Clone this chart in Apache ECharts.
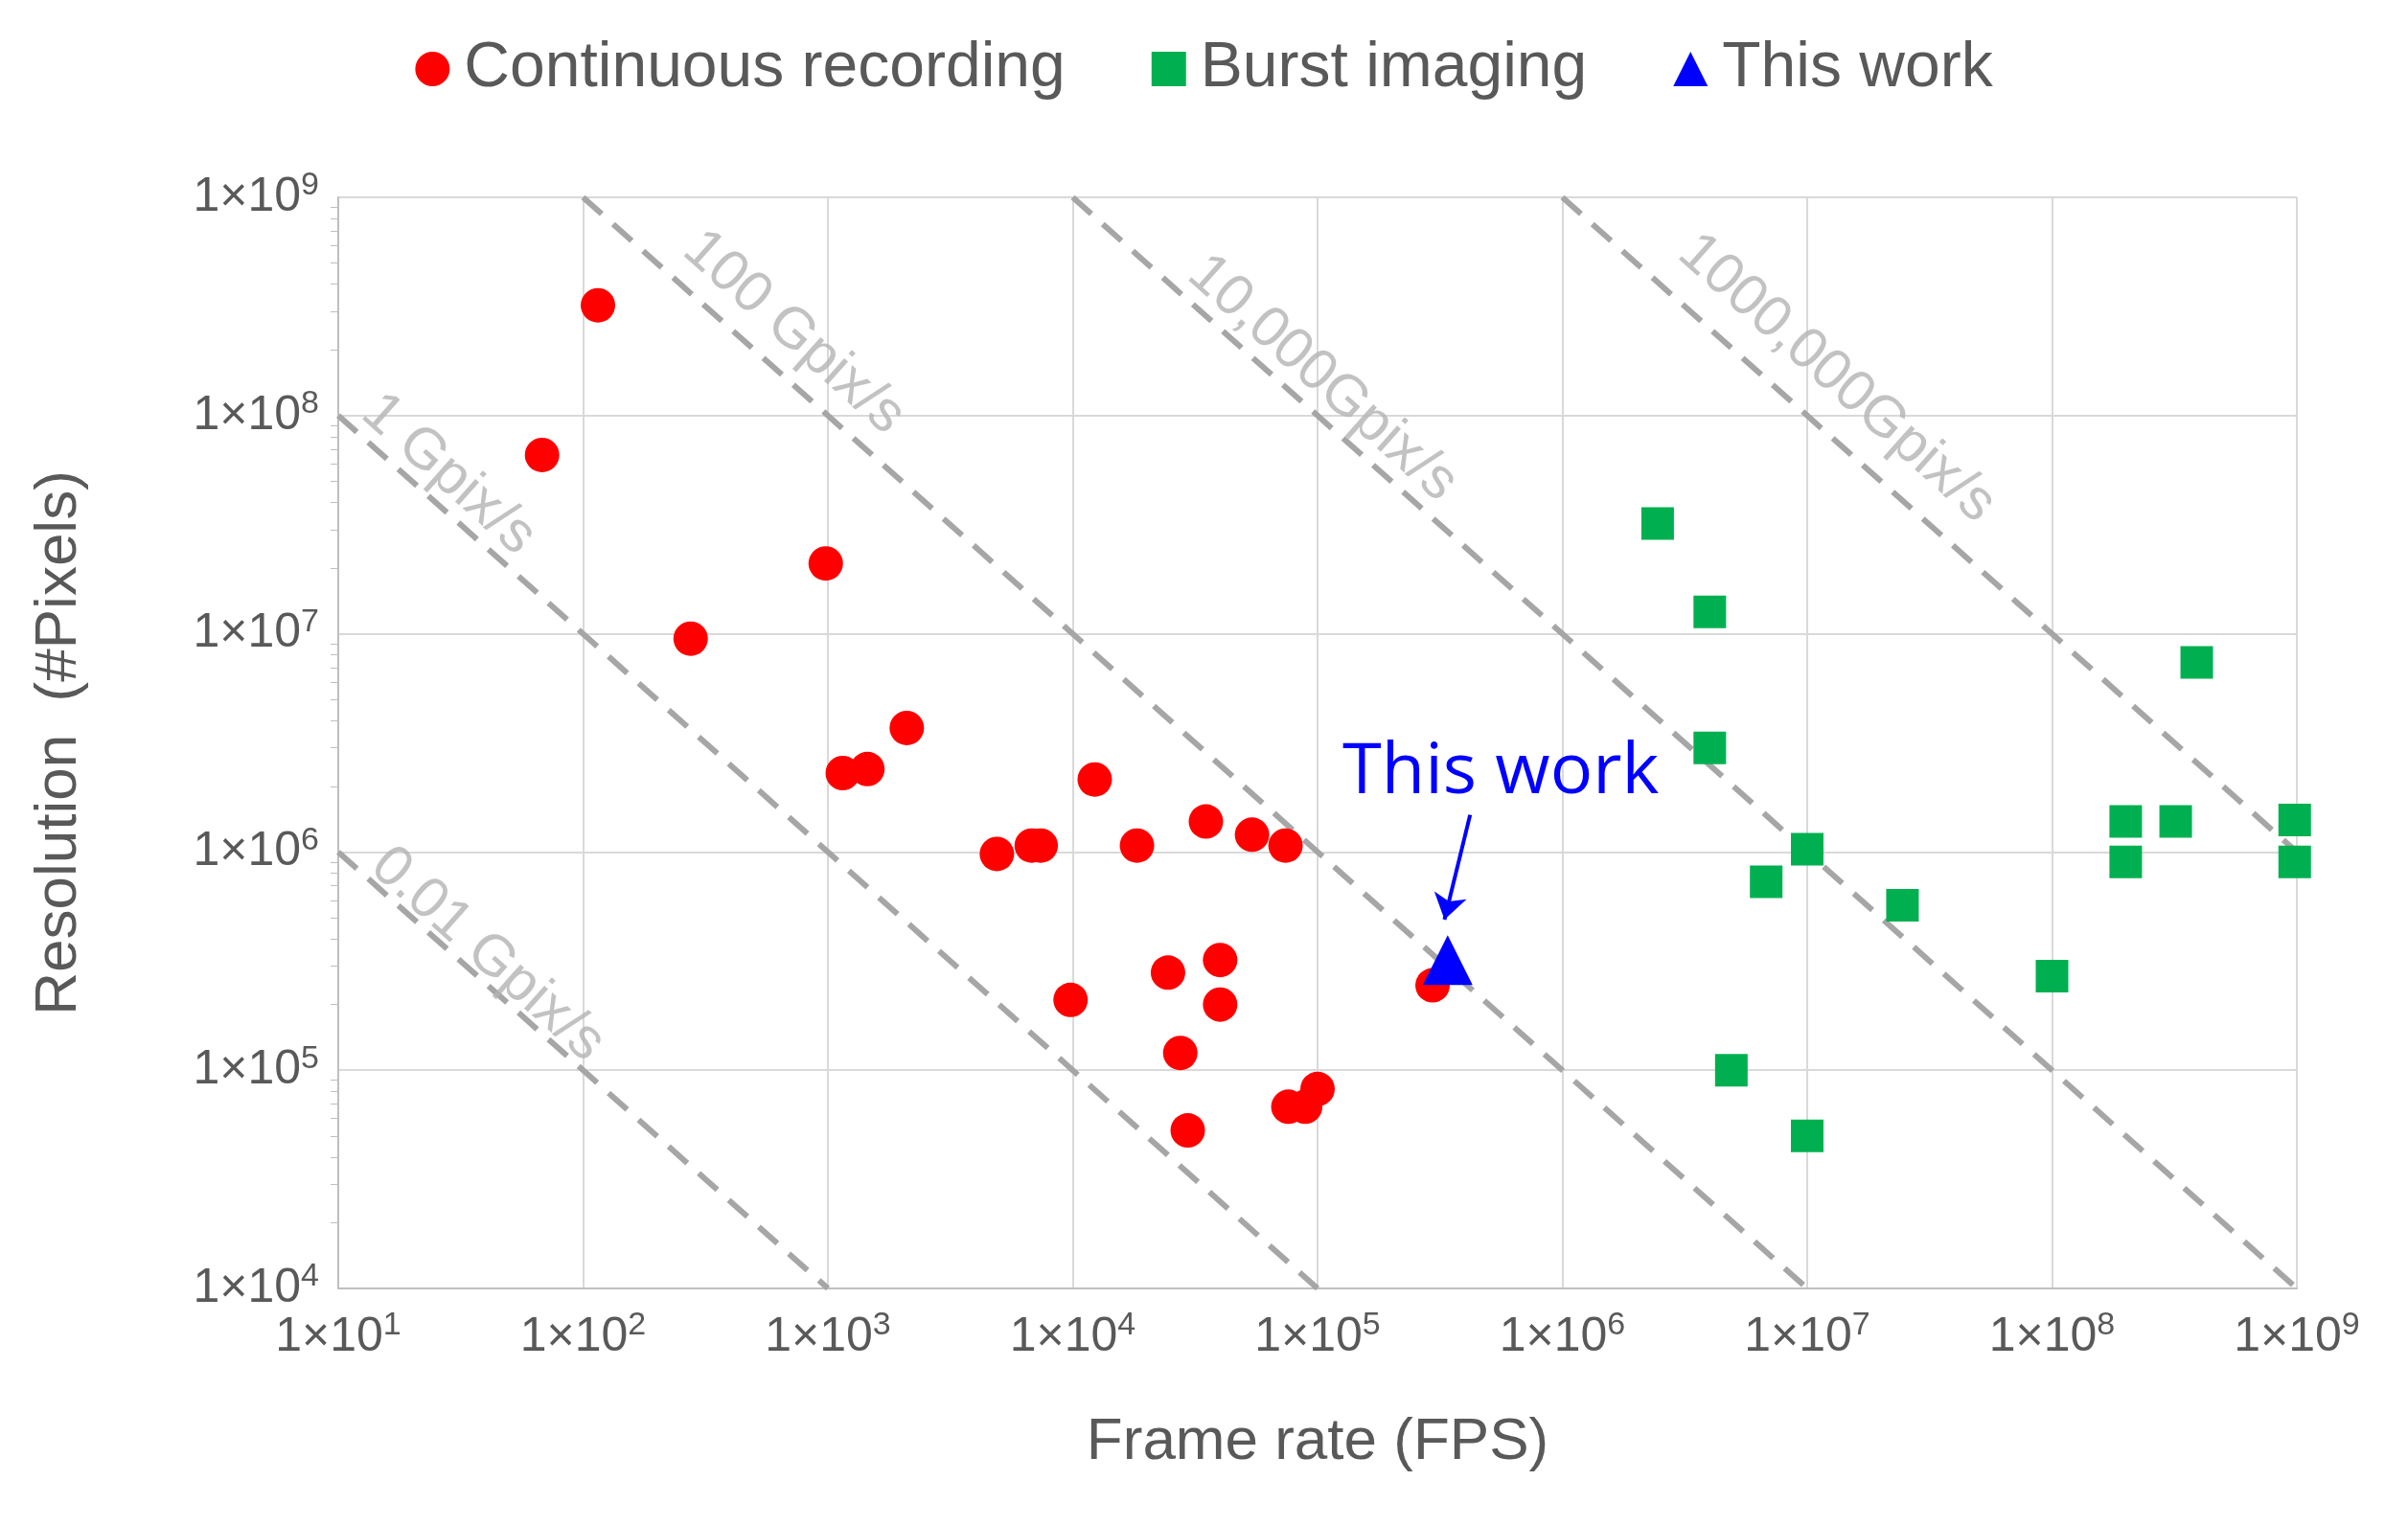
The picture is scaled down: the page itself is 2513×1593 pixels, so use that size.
<!doctype html>
<html>
<head>
<meta charset="UTF-8">
<title>Frame rate vs resolution</title>
<script src="https://cdn.jsdelivr.net/npm/echarts@6/dist/echarts.min.js"></script>
<style>html,body{margin:0;background:#fff}#main{width:2513px;height:1593px}</style>
</head>
<body>
<div id="main"></div>
<script>
// [fps, pixels]
var continuous = [
    [115, 3.2e8], [68, 6.6e7], [275, 9.5e6], [980, 2.1e7], [1150, 2.3e6],
    [1450, 2.4e6], [2100, 3.7e6], [4900, 9.8e5], [6800, 1.07e6], [7400, 1.07e6],
    [12300, 2.15e6], [18300, 1.07e6], [9800, 2.1e5], [24500, 2.8e5], [35000, 1.38e6],
    [40000, 3.2e5], [40000, 2.0e5], [27500, 1.2e5], [29500, 5.3e4], [54000, 1.2e6],
    [74000, 1.07e6], [76000, 6.8e4], [89000, 6.8e4], [100000, 8.2e4], [295000, 2.45e5]
];
var burst = [
    [2.45e6, 3.2e7], [4e6, 1.26e7], [4e6, 3e6], [1e7, 1.03e6], [6.8e6, 7.3e5],
    [2.45e7, 5.7e5], [4.9e6, 1e5], [1e7, 5e4], [1e8, 2.7e5], [2e8, 1.38e6],
    [2e8, 9e5], [3.2e8, 1.38e6], [3.9e8, 7.4e6], [9.8e8, 1.4e6], [9.8e8, 9e5]
];
var thisWork = [[3.4e5, 3.2e5]];
var rateLines = [
    {name: '0.01 Gpix/s', pts: [[10, 1e6], [1e3, 1e4]], at: [10 ** 1.61, 10 ** 5.53]},
    {name: '1 Gpix/s', pts: [[10, 1e8], [1e5, 1e4]], at: [10 ** 1.45, 10 ** 7.73]},
    {name: '100 Gpix/s', pts: [[1e2, 1e9], [1e7, 1e4]], at: [10 ** 2.86, 10 ** 8.38]},
    {name: '10,000Gpix/s', pts: [[1e4, 1e9], [1e9, 1e4]], at: [10 ** 5.02, 10 ** 8.17]},
    {name: '1000,000Gpix/s', pts: [[1e6, 1e9], [1e9, 1e6]], at: [10 ** 7.12, 10 ** 8.17]}
];

var gray = '#595959';
var fmt = function (v) {
    return '1×10{s|' + Math.round(Math.log10(v)) + '}';
};
var rich = {s: {fontSize: 34, color: gray, padding: [0, 0, 24, 0], fontFamily: 'Liberation Sans'}};

var series = [];
rateLines.forEach(function (r) {
    series.push({
        type: 'line', data: r.pts, symbol: 'none', silent: true, z: 1,
        lineStyle: {color: '#a6a6a6', width: 6, type: [26, 16]}
    });
});
series.push({
    type: 'scatter', silent: true, symbolSize: 0, z: 2,
    data: rateLines.map(function (r) { return {value: r.at, name: r.name}; }),
    label: {
        show: true, position: 'inside', rotate: -41.7, formatter: '{b}',
        fontSize: 60, color: '#b3b3b3', fontFamily: 'Liberation Sans'
    }
});
series.push({
    name: 'Continuous recording', type: 'scatter', data: continuous,
    symbol: 'circle', symbolSize: 36, itemStyle: {color: '#ff0000', opacity: 1}, z: 5
});
series.push({
    name: 'Burst imaging', type: 'scatter', data: burst,
    symbol: 'rect', symbolSize: 34, itemStyle: {color: '#00b050', opacity: 1}, z: 5
});
series.push({
    name: 'This work', type: 'scatter', data: thisWork,
    symbol: 'triangle', symbolSize: 52, itemStyle: {color: '#0000ff', opacity: 1}, z: 6,
    markLine: {
        silent: true, symbol: ['none', 'arrow'], symbolSize: 26,
        lineStyle: {color: '#0000ff', width: 4, type: 'solid'},
        label: {show: false},
        data: [[{coord: [4.2e5, 1.48e6]}, {coord: [3.3e5, 4.9e5]}]]
    },
    markPoint: {
        symbol: 'rect', symbolSize: 0,
        label: {show: true, formatter: 'This work', fontSize: 74, color: '#0000ff', fontFamily: 'Open Sans'},
        data: [{coord: [5.6e5, 2.3e6]}]
    }
});

var chart = echarts.init(document.getElementById('main'));
chart.setOption({
    animation: false,
    legend: {
        top: 34, left: 'center', itemWidth: 36, itemHeight: 36, itemGap: 90,
        data: ['Continuous recording', 'Burst imaging', 'This work'],
        textStyle: {fontSize: 66, color: gray, fontFamily: 'Liberation Sans', padding: [0, 0, 0, 10]}
    },
    grid: {left: 353, right: 116, top: 206, bottom: 248},
    xAxis: {
        type: 'log', logBase: 10, min: 10, max: 1e9,
        name: 'Frame rate (FPS)', nameLocation: 'middle', nameGap: 130,
        nameTextStyle: {fontSize: 62, color: gray, fontFamily: 'Liberation Sans'},
        axisLine: {lineStyle: {color: '#bfbfbf', width: 2}},
        axisTick: {show: false},
        axisLabel: {formatter: fmt, rich: rich, fontSize: 50, color: gray, margin: 22, fontFamily: 'Liberation Sans'},
        splitLine: {show: true, lineStyle: {color: '#d9d9d9', width: 2}}
    },
    yAxis: {
        type: 'log', logBase: 10, min: 1e4, max: 1e9,
        name: 'Resolution  (#Pixels)', nameLocation: 'middle', nameGap: 260,
        nameTextStyle: {fontSize: 62, color: gray, fontFamily: 'Liberation Sans'},
        axisLine: {show: true, lineStyle: {color: '#bfbfbf', width: 2}},
        axisTick: {show: false},
        minorTick: {show: true, splitNumber: 9, length: 8, lineStyle: {color: '#bfbfbf'}},
        axisLabel: {formatter: fmt, rich: rich, fontSize: 50, color: gray, margin: 20, fontFamily: 'Liberation Sans'},
        splitLine: {show: true, lineStyle: {color: '#d9d9d9', width: 2}}
    },
    series: series
});
</script>
</body>
</html>
